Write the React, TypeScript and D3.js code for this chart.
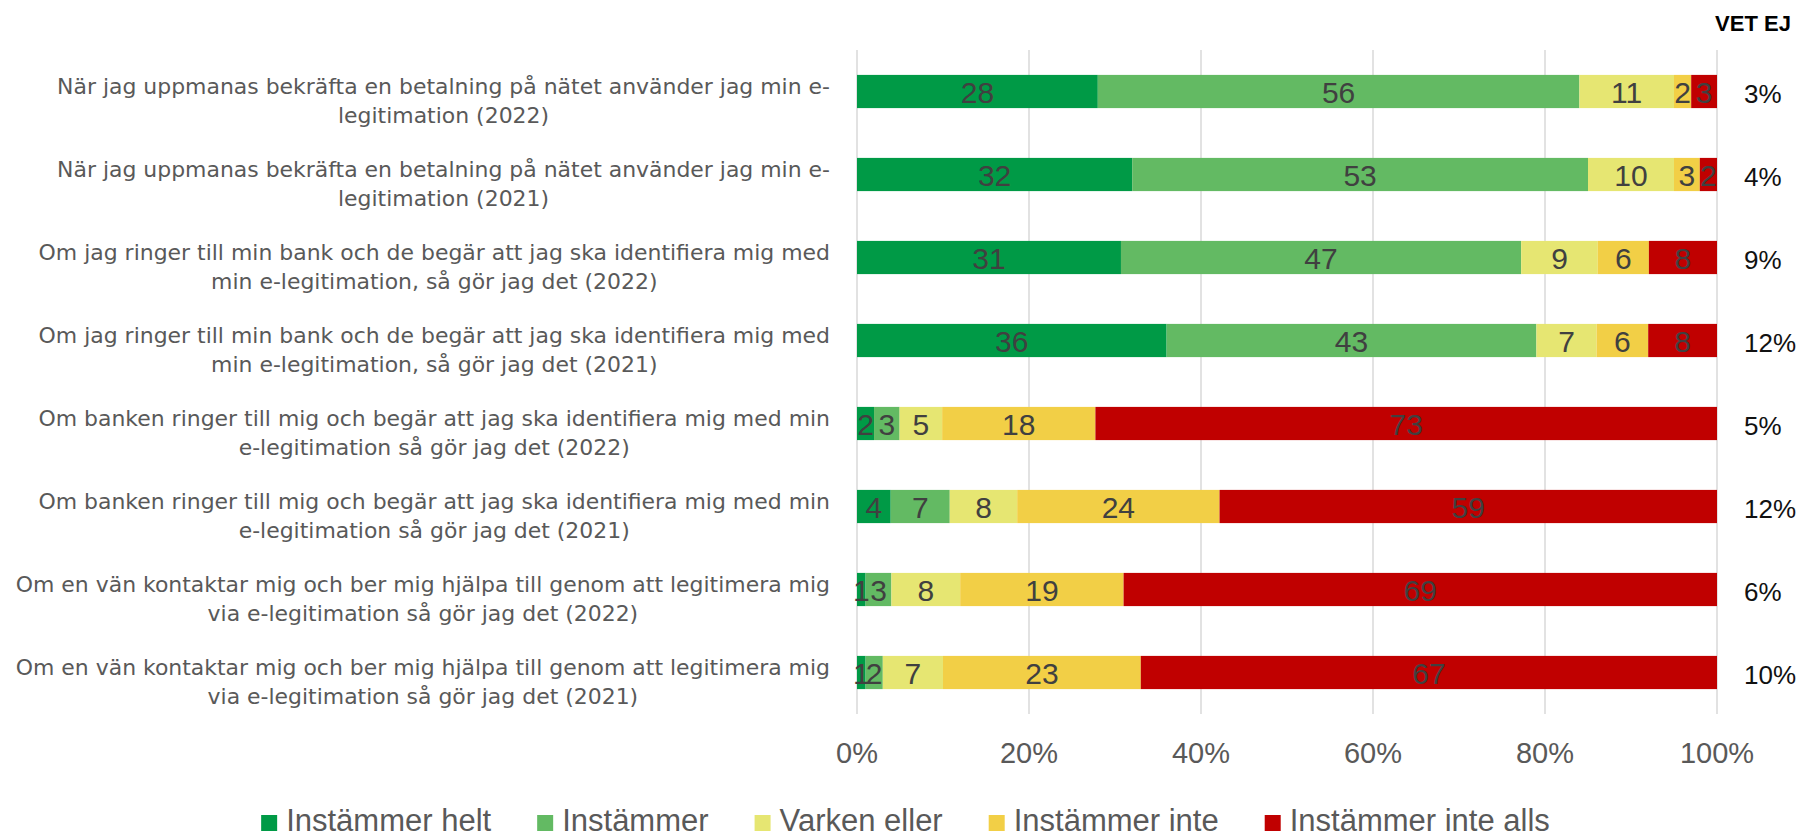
import React from 'react';
import * as d3 from 'd3';

// ---------- data ----------
const categoryLines: string[][] = [
  ['När jag uppmanas bekräfta en betalning på nätet använder jag min e-', 'legitimation (2022)'],
  ['När jag uppmanas bekräfta en betalning på nätet använder jag min e-', 'legitimation (2021)'],
  ['Om jag ringer till min bank och de begär att jag ska identifiera mig med', 'min e-legitimation, så gör jag det (2022)'],
  ['Om jag ringer till min bank och de begär att jag ska identifiera mig med', 'min e-legitimation, så gör jag det (2021)'],
  ['Om banken ringer till mig och begär att jag ska identifiera mig med min', 'e-legitimation så gör jag det (2022)'],
  ['Om banken ringer till mig och begär att jag ska identifiera mig med min', 'e-legitimation så gör jag det (2021)'],
  ['Om en vän kontaktar mig och ber mig hjälpa till genom att legitimera mig', 'via e-legitimation så gör jag det (2022)'],
  ['Om en vän kontaktar mig och ber mig hjälpa till genom att legitimera mig', 'via e-legitimation så gör jag det (2021)'],
];
const seriesNames = ['Instämmer helt', 'Instämmer', 'Varken eller', 'Instämmer inte', 'Instämmer inte alls'];
const seriesColors = ['#009A46', '#63BA63', '#E6E672', '#F2CF46', '#C00000'];
const instammerHelt = [28, 32, 31, 36, 2, 4, 1, 1];
const instammer = [56, 53, 47, 43, 3, 7, 3, 2];
const varkenEller = [11, 10, 9, 7, 5, 8, 8, 7];
const instammerInte = [2, 3, 6, 6, 18, 24, 19, 23];
const instammerInteAlls = [3, 2, 8, 8, 73, 59, 69, 67];
const vetEj = [3, 4, 9, 12, 5, 12, 6, 10];
const xTicks = [0, 0.2, 0.4, 0.6, 0.8, 1];
const vetEjTitle = 'VET EJ';

const seriesValues = [instammerHelt, instammer, varkenEller, instammerInte, instammerInteAlls];

// ---------- layout ----------
const W = 1803;
const H = 838;
const plotLeft = 857;
const plotRight = 1717;
const plotTop = 50;
const plotBottom = 714;
const labelRight = 830;
const labelLeftMost = 15;
const legendFont = "31px 'Liberation Sans', Arial";

let ctx: CanvasRenderingContext2D | null = null;
function measure(text: string, font: string): number {
  if (!ctx) ctx = document.createElement('canvas').getContext('2d');
  if (!ctx) return text.length * 10;
  ctx.font = font;
  return ctx.measureText(text).width;
}

export default function App() {
  const rows = categoryLines.map((_, i) => {
    const r: Record<string, number> = { idx: i };
    seriesNames.forEach((s, k) => (r[s] = seriesValues[k][i]));
    return r;
  });
  const stack = d3.stack<Record<string, number>>().keys(seriesNames).offset(d3.stackOffsetExpand);
  const stacked = stack(rows);

  const x = d3.scaleLinear().domain([0, 1]).range([plotLeft, plotRight]);
  const y = d3
    .scaleBand<number>()
    .domain(categoryLines.map((_, i) => i))
    .range([plotTop, plotBottom])
    .paddingInner(0.6)
    .paddingOuter(0.3);
  const bw = y.bandwidth();

  // category font size fitted so the widest line spans the label area
  const widest = d3.max(categoryLines.flat(), (l) => measure(l, "20px 'DejaVu Sans'")) || 1;
  const catSize = Math.min(24, (20 * (labelRight - labelLeftMost)) / widest);
  const catFont = `${catSize}px 'DejaVu Sans'`;

  // legend layout
  const sq = 16;
  const sqGap = 9;
  const itemGap = 46;
  const itemWidths = seriesNames.map((s) => sq + sqGap + measure(s, legendFont));
  const legendTotal = d3.sum(itemWidths) + itemGap * (seriesNames.length - 1);
  let lx = W / 2 - legendTotal / 2 + 4;
  const legendPos = itemWidths.map((w) => {
    const p = lx;
    lx += w + itemGap;
    return p;
  });

  return (
    <svg width={W} height={H} style={{ position: 'absolute', left: 0, top: 0, background: '#fff' }}>
      <rect x={0} y={0} width={W} height={H} fill="#fff" />
      {/* gridlines */}
      {xTicks.map((t) => (
        <line key={t} x1={x(t)} x2={x(t)} y1={plotTop} y2={plotBottom} stroke="#D9D9D9" strokeWidth={1.5} />
      ))}
      {/* bars */}
      {stacked.map((layer, k) => (
        <g key={layer.key} fill={seriesColors[k]}>
          {layer.map((d, i) => (
            <rect key={i} x={x(d[0])} y={y(i)!} width={Math.max(0, x(d[1]) - x(d[0]))} height={bw} />
          ))}
        </g>
      ))}
      {/* bar labels */}
      {stacked.map((layer, k) => (
        <g key={'l' + layer.key}>
          {layer.map((d, i) => (
            <text
              key={i}
              x={(x(d[0]) + x(d[1])) / 2}
              y={y(i)! + bw / 2 + 11}
              textAnchor="middle"
              fontFamily="'Liberation Sans', Arial, sans-serif"
              fontSize={30}
              fill="#404040"
            >
              {seriesValues[k][i]}
            </text>
          ))}
        </g>
      ))}
      {/* category labels */}
      {categoryLines.map((lines, i) => {
        const maxW = d3.max(lines, (l) => measure(l, catFont)) || 0;
        const cx = labelRight - maxW / 2;
        const cy = y(i)! + bw / 2;
        return (
          <text
            key={i}
            textAnchor="middle"
            fontFamily="'DejaVu Sans', sans-serif"
            fontSize={catSize}
            fill="#595959"
          >
            {lines.map((l, j) => (
              <tspan key={j} x={cx} y={cy + 2 + j * 29}>
                {l}
              </tspan>
            ))}
          </text>
        );
      })}
      {/* x axis tick labels */}
      {xTicks.map((t) => (
        <text
          key={'t' + t}
          x={x(t)}
          y={763}
          textAnchor="middle"
          fontFamily="'Liberation Sans', Arial, sans-serif"
          fontSize={29}
          fill="#595959"
        >
          {d3.format('.0%')(t)}
        </text>
      ))}
      {/* VET EJ column */}
      <text
        x={1753}
        y={31}
        textAnchor="middle"
        fontFamily="'Liberation Sans Narrow', 'Liberation Sans', Arial, sans-serif"
        fontWeight="bold"
        fontSize={22}
        fill="#000"
      >
        {vetEjTitle}
      </text>
      {vetEj.map((v, i) => (
        <text
          key={'v' + i}
          x={1744}
          y={y(i)! + bw / 2 + 11.5}
          fontFamily="'Liberation Sans', Arial, sans-serif"
          fontSize={26}
          fill="#111"
        >
          {v + '%'}
        </text>
      ))}
      {/* legend */}
      {seriesNames.map((s, k) => (
        <g key={'lg' + s} transform={`translate(${legendPos[k]},0)`}>
          <rect x={0} y={815} width={sq} height={sq} fill={seriesColors[k]} />
          <text
            x={sq + sqGap}
            y={831}
            fontFamily="'Liberation Sans', Arial, sans-serif"
            fontSize={31}
            fill="#595959"
          >
            {s}
          </text>
        </g>
      ))}
    </svg>
  );
}
